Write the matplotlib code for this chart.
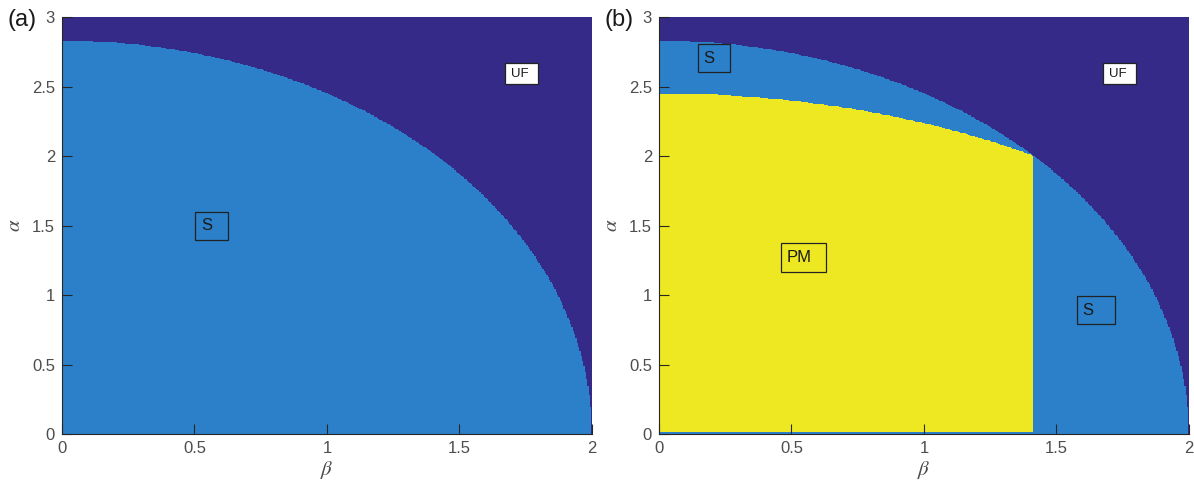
import numpy as np
import matplotlib
matplotlib.use("Agg")
import matplotlib.pyplot as plt
from matplotlib.colors import ListedColormap
from matplotlib.patches import Rectangle

plt.rcParams["font.family"] = ["Liberation Sans", "DejaVu Sans"]
plt.rcParams["mathtext.fontset"] = "stix"

# Phase-boundary parameters
outer_alpha0 = 2.83   # S/UF boundary at beta=0
outer_beta0 = 2.0     # S/UF boundary at alpha=0
pm_alpha0 = 2.45      # PM/S boundary at beta=0
pm_beta_max = 1.414   # PM right edge
beta_vals = np.linspace(0, 2, 401)
alpha_vals = np.linspace(0, 3, 601)

phase_colors = ["#352a87", "#2b80c9", "#eee822"]  # UF, S, PM

x_ticks = [0, 0.5, 1, 1.5, 2]
x_tick_labels = ["0", "0.5", "1", "1.5", "2"]
y_ticks = [0, 0.5, 1, 1.5, 2, 2.5, 3]
y_tick_labels = ["0", "0.5", "1", "1.5", "2", "2.5", "3"]

# label text, box (beta0, alpha0, width, height), facecolor, fontsize
labels_a = [("S", (0.502, 1.396, 0.124, 0.201), "none", 12),
            ("UF", (1.672, 2.518, 0.124, 0.151), "white", 9.5)]
labels_b = [("S", (0.147, 2.604, 0.121, 0.202), "none", 12),
            ("UF", (1.675, 2.518, 0.125, 0.151), "white", 9.5),
            ("PM", (0.460, 1.165, 0.170, 0.209), "none", 12),
            ("S", (1.577, 0.791, 0.144, 0.202), "none", 12)]

B, A = np.meshgrid(beta_vals, alpha_vals)
inside = (A / outer_alpha0) ** 2 + (B / outer_beta0) ** 2 < 1
grid_a = np.where(inside, 1, 0)
pm = ((A ** 2 + B ** 2) < pm_alpha0 ** 2) & (B < pm_beta_max) & (A > 0.01)
grid_b = np.where(pm, 2, grid_a)

cmap = ListedColormap(phase_colors)
fig = plt.figure(figsize=(11.94, 4.83), dpi=100)
axes = [fig.add_axes([0.0519, 0.1014, 0.4439, 0.8634]),
        fig.add_axes([0.5519, 0.1014, 0.4439, 0.8634])]
tick_col = "#4d4d4d"
for ax, grid, labs, tag in zip(axes, [grid_a, grid_b], [labels_a, labels_b], ["(a)", "(b)"]):
    ax.pcolormesh(beta_vals, alpha_vals, grid, cmap=cmap, vmin=0, vmax=2,
                  shading="nearest", rasterized=True)
    ax.set_xlim(0, 2)
    ax.set_ylim(0, 3)
    ax.set_xticks(x_ticks)
    ax.set_xticklabels(x_tick_labels)
    ax.set_yticks(y_ticks)
    ax.set_yticklabels(y_tick_labels)
    ax.tick_params(direction="in", length=7, width=0.8, colors="#262626",
                   labelcolor=tick_col, labelsize=12, top=False, right=False, pad=5)
    for s in ["top", "right"]:
        ax.spines[s].set_visible(False)
    for s in ["left", "bottom"]:
        ax.spines[s].set_color("#262626")
        ax.spines[s].set_linewidth(0.8)
    ax.set_xlabel(r"$\beta$", fontsize=15, color=tick_col, labelpad=2)
    ax.set_ylabel(r"$\alpha$", fontsize=15, color=tick_col, labelpad=6)
    for txt, (bx, ay, w, h), fc, fs in labs:
        ax.add_patch(Rectangle((bx, ay), w, h, fc=fc, ec="#222222", lw=0.9, zorder=3))
        ax.text(bx + 0.022, ay + h / 2, txt, ha="left", va="center", fontsize=fs,
                color="#1a1a1a", zorder=4)
    pos = ax.get_position()
    fig.text(pos.x0 - 0.0455, 0.959, tag, fontsize=17, color="#1a1a1a", ha="left", va="center")

fig.savefig("out.png", dpi=100)
